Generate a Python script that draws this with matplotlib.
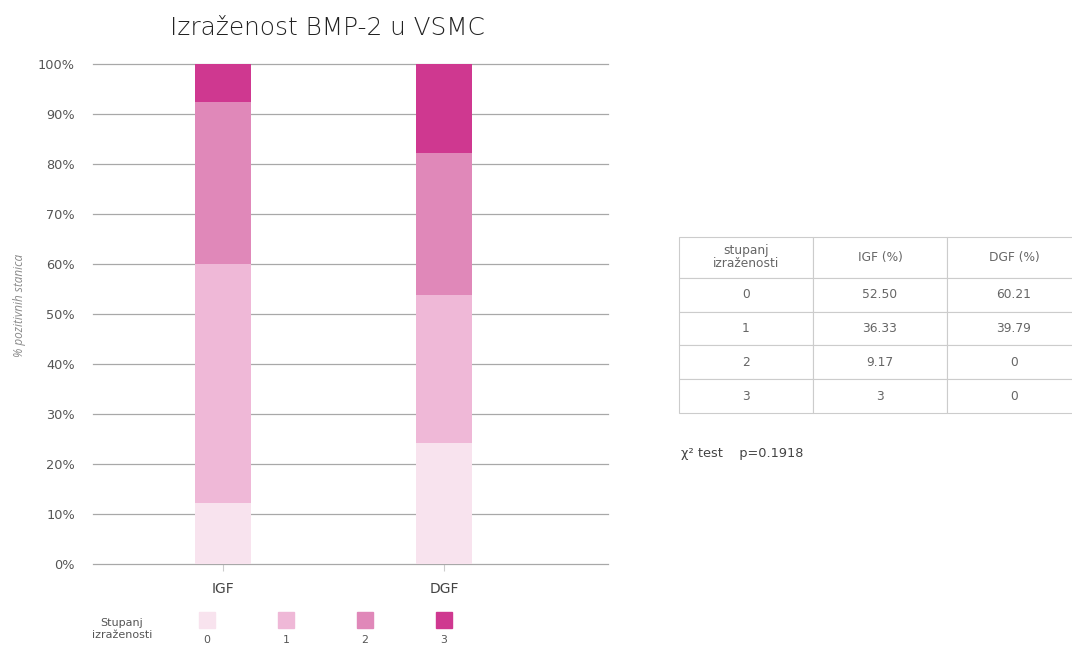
import matplotlib
matplotlib.use("Agg")
import matplotlib.pyplot as plt
from matplotlib.patches import Rectangle
import numpy as np

# ---- data ----
groups = ["IGF", "DGF"]
levels = ["0", "1", "2", "3"]
igf_vals = [12.2, 47.8, 32.4, 7.6]
dgf_vals = [24.2, 29.6, 28.4, 17.8]
colors = ["#f8e3ee", "#efb8d7", "#e088b9", "#cf3890"]
yticks = [0, 10, 20, 30, 40, 50, 60, 70, 80, 90, 100]
title = "Izraženost BMP-2 u VSMC"
ylabel = "% pozitivnih stanica"
legend_title = "Stupanj\nizraženosti"
table_header = ["stupanj\nizraženosti", "IGF (%)", "DGF (%)"]
table_levels = ["0", "1", "2", "3"]
table_igf = ["52.50", "36.33", "9.17", "3"]
table_dgf = ["60.21", "39.79", "0", "0"]
test_text = "χ² test    p=0.1918"

plt.rcParams['font.family'] = ['DejaVu Sans']
W, H = 1072, 645
fig = plt.figure(figsize=(W/100, H/100), dpi=100)

def fx(px): return px / W
def fy(py): return 1 - py / H

ax = fig.add_axes([fx(93), fy(564), fx(608) - fx(93), fy(64) - fy(564)])
x = np.arange(len(groups))
data = np.array([igf_vals, dgf_vals]).T
bottom = np.zeros(len(groups))
for i, lvl in enumerate(levels):
    ax.bar(x, data[i], bottom=bottom, width=0.253, color=colors[i], zorder=3)
    bottom += data[i]

ax.set_ylim(0, 100)
ax.set_xlim(-0.588, 0.742 + 1)
ax.set_yticks(yticks)
ax.set_yticklabels([f"{t}%" for t in yticks], color="#555555", fontsize=9.3)
ax.set_xticks(x)
ax.set_xticklabels(groups, color="#444444", fontsize=10)
ax.tick_params(axis="y", length=0, pad=13)
ax.tick_params(axis="x", length=5, color="#cccccc", pad=8)
ax.yaxis.grid(True, color="#a8a8a8", linewidth=0.9, zorder=0)
for gl in ax.yaxis.get_gridlines():
    gl.set_clip_on(False)
for s in ax.spines.values():
    s.set_visible(False)
ax.set_axisbelow(True)

fig.text(fx(327), fy(28), title, ha="center", va="center", fontsize=17.8,
         color="#222222", family=['DejaVu Sans'], fontweight=200)
fig.text(fx(20), fy(305), ylabel, rotation=90, ha="center", va="center",
         fontsize=8.5, style="italic", color="#8a8a8a", family=['Open Sans', 'DejaVu Sans'])

# legend
fig.text(fx(122), fy(629), legend_title, ha="center", va="center", fontsize=8.0,
         color="#555555", linespacing=1.3)
lx = [207, 286, 365, 444]
for i, lvl in enumerate(levels):
    fig.patches.append(Rectangle((fx(lx[i] - 8), fy(628)), fx(16), fy(612) - fy(628),
                                 transform=fig.transFigure, color=colors[i]))
    fig.text(fx(lx[i]), fy(640), lvl, ha="center", va="center", fontsize=7.8, color="#555555")

# table
tax = fig.add_axes([fx(679), fy(413), fx(1081) - fx(679), fy(237) - fy(413)])
tax.axis("off")
cell_text = [[table_levels[i], table_igf[i], table_dgf[i]] for i in range(len(table_levels))]
tbl = tax.table(cellText=[table_header] + cell_text, cellLoc="center", bbox=[0, 0, 1, 1])
tbl.auto_set_font_size(False)
total = 41 + 34 * 4
for (r, c), cell in tbl.get_celld().items():
    cell.set_edgecolor("#cccccc")
    cell.set_linewidth(0.8)
    cell.set_height((41 if r == 0 else 34) / total)
    cell.get_text().set_fontsize(8.8)
    cell.get_text().set_color("#666666")
    if r == 0:
        cell.get_text().set_linespacing(1.0)

fig.text(fx(681), fy(454), test_text, ha="left", va="center", fontsize=9.3, color="#444444")

fig.savefig("out.png", dpi=100)
